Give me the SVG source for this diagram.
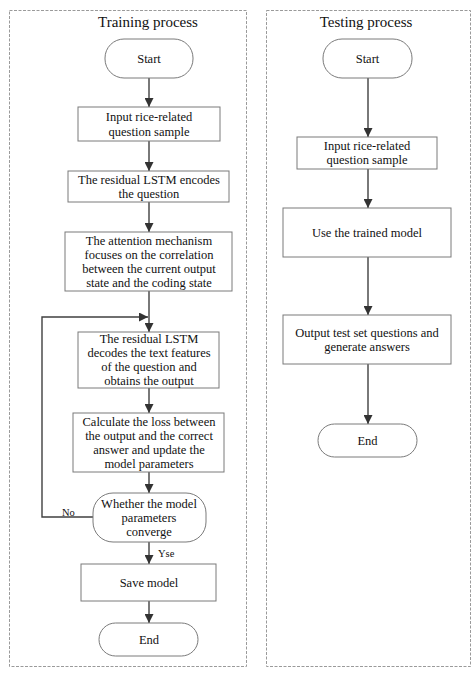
<svg xmlns="http://www.w3.org/2000/svg" width="474" height="674" viewBox="0 0 474 674">
<defs>
<style>
.panel{fill:none;stroke:#9a9a9a;stroke-width:1;stroke-dasharray:3 1.5}
.box{fill:#fff;stroke:#7a7a7a;stroke-width:1}
.t{font-family:"Liberation Serif","Times New Roman",serif;font-size:12.5px;fill:#111;text-anchor:middle}
.title{font-family:"Liberation Serif","Times New Roman",serif;font-size:15px;fill:#111;text-anchor:middle}
.lbl{font-family:"Liberation Serif","Times New Roman",serif;font-size:10.5px;fill:#111}
.c{fill:none;stroke:#404040;stroke-width:1.4}
</style>
<marker id="ah" markerWidth="9" markerHeight="9" refX="9" refY="4.5" orient="auto" markerUnits="userSpaceOnUse">
<path d="M0,0 L9,4.5 L0,9 z" fill="#333"/>
</marker>
</defs>
<rect width="474" height="674" fill="#fff"/>
<g id="panels">
<rect class="panel" x="9.5" y="10.5" width="237" height="656"/>
<rect class="panel" x="266.5" y="10.5" width="204" height="656"/>
<text class="title" x="148" y="27">Training process</text>
<text class="title" x="366" y="27">Testing process</text>
</g>
<g id="connectors">
<line class="c" x1="149" y1="78" x2="149" y2="107" marker-end="url(#ah)"/>
<line class="c" x1="149" y1="141" x2="149" y2="171" marker-end="url(#ah)"/>
<line class="c" x1="149" y1="202" x2="149" y2="232" marker-end="url(#ah)"/>
<line class="c" x1="149" y1="291" x2="149" y2="332" marker-end="url(#ah)"/>
<line class="c" x1="149" y1="388" x2="149" y2="413" marker-end="url(#ah)"/>
<line class="c" x1="149" y1="472" x2="149" y2="493" marker-end="url(#ah)"/>
<line class="c" x1="149" y1="542" x2="149" y2="564" marker-end="url(#ah)"/>
<line class="c" x1="149" y1="601" x2="149" y2="623" marker-end="url(#ah)"/>
<polyline class="c" points="93,517 42,517 42,317 148,317" marker-end="url(#ah)"/>
<text class="lbl" x="62" y="516">No</text>
<text class="lbl" x="158" y="557">Yse</text>
<line class="c" x1="368" y1="78" x2="368" y2="137" marker-end="url(#ah)"/>
<line class="c" x1="368" y1="169" x2="368" y2="208" marker-end="url(#ah)"/>
<line class="c" x1="368" y1="257" x2="368" y2="315" marker-end="url(#ah)"/>
<line class="c" x1="368" y1="364" x2="368" y2="424" marker-end="url(#ah)"/>
</g>
<g id="train-start">
<rect class="box" x="105" y="39" width="88" height="39" rx="19" ry="19"/>
<text class="t" x="149" y="63">Start</text>
</g>
<g id="train-input">
<rect class="box" x="78" y="107" width="142" height="34"/>
<text class="t" x="149" y="121">Input rice-related</text>
<text class="t" x="149" y="135.5">question sample</text>
</g>
<g id="train-encode">
<rect class="box" x="68" y="171" width="161" height="31"/>
<text class="t" x="149" y="183.5">The residual LSTM encodes</text>
<text class="t" x="149" y="197.5">the question</text>
</g>
<g id="train-attention">
<rect class="box" x="65" y="232" width="167" height="59"/>
<text class="t" x="149" y="244.5">The attention mechanism</text>
<text class="t" x="149" y="258.5">focuses on the correlation</text>
<text class="t" x="149" y="272.5">between the current output</text>
<text class="t" x="149" y="286.5">state and the coding state</text>
</g>
<g id="train-decode">
<rect class="box" x="78" y="332" width="141" height="56"/>
<text class="t" x="149" y="343">The residual LSTM</text>
<text class="t" x="149" y="357">decodes the text features</text>
<text class="t" x="149" y="371">of the question and</text>
<text class="t" x="149" y="385">obtains the output</text>
</g>
<g id="train-loss">
<rect class="box" x="73" y="413" width="151" height="59"/>
<text class="t" x="149" y="425.5">Calculate the loss between</text>
<text class="t" x="149" y="439.5">the output and the correct</text>
<text class="t" x="149" y="453.5">answer and update the</text>
<text class="t" x="149" y="467.5">model parameters</text>
</g>
<g id="train-converge">
<rect class="box" x="93" y="493" width="113" height="49" rx="20" ry="20"/>
<text class="t" x="149" y="507.5">Whether the model</text>
<text class="t" x="149" y="521.5">parameters</text>
<text class="t" x="149" y="535.5">converge</text>
</g>
<g id="train-save">
<rect class="box" x="81" y="564" width="135" height="37"/>
<text class="t" x="149" y="587">Save model</text>
</g>
<g id="train-end">
<rect class="box" x="99" y="623" width="99" height="33" rx="16.5" ry="16.5"/>
<text class="t" x="149" y="644">End</text>
</g>
<g id="test-start">
<rect class="box" x="323" y="39" width="89" height="39" rx="19" ry="19"/>
<text class="t" x="367.5" y="63">Start</text>
</g>
<g id="test-input">
<rect class="box" x="297" y="137" width="140" height="32"/>
<text class="t" x="367" y="150">Input rice-related</text>
<text class="t" x="367" y="164">question sample</text>
</g>
<g id="test-use">
<rect class="box" x="283" y="208" width="168" height="49"/>
<text class="t" x="367" y="237">Use the trained model</text>
</g>
<g id="test-output">
<rect class="box" x="283" y="315" width="168" height="49"/>
<text class="t" x="367" y="336.5">Output test set questions and</text>
<text class="t" x="367" y="350.5">generate answers</text>
</g>
<g id="test-end">
<rect class="box" x="318" y="424" width="99" height="33" rx="16.5" ry="16.5"/>
<text class="t" x="367.5" y="445">End</text>
</g>
</svg>
